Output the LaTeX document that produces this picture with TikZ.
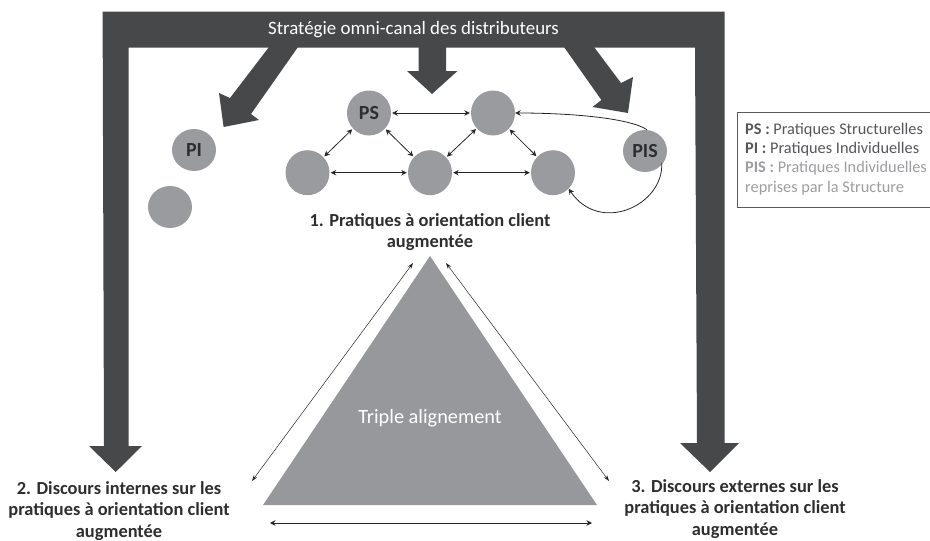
\documentclass[tikz,border=0pt]{standalone}
\usepackage{fontspec}
\setmainfont{Carlito}
\usetikzlibrary{shapes.geometric,arrows.meta}
\definecolor{darkbar}{HTML}{47484A}
\definecolor{midgrey}{HTML}{9A9B9E}
\definecolor{tritone}{HTML}{97989B}
\definecolor{labeltxt}{HTML}{2E2E30}
\definecolor{legendone}{HTML}{55565A}
\definecolor{legendtwo}{HTML}{9C9DA0}
\tikzset{
  bubble/.style={ellipse,fill=midgrey,inner sep=0pt,minimum width=44pt,minimum height=45pt,font=\fontsize{20}{20}\selectfont\bfseries,text=labeltxt},
  smallbubble/.style={bubble,minimum height=42pt},
  link/.style={{Stealth[length=5.5pt,width=5.5pt]}-{Stealth[length=5.5pt,width=5.5pt]},draw=black!85,line width=0.8pt,shorten >=1pt,shorten <=1pt},
  thinlink/.style={{Stealth[length=6pt,width=4pt]}-{Stealth[length=6pt,width=4pt]},draw=black!85,line width=0.5pt},
  curvelink/.style={-{Stealth[length=5.5pt,width=5.5pt]},draw=black!85,line width=0.8pt},
  biglabel/.style={align=center,font=\fontsize{18.4}{21.8}\selectfont\bfseries,text=labeltxt,inner sep=0pt},
  legendline/.style={anchor=west,inner sep=0pt,font=\fontsize{16.3}{16.3}\selectfont},
}
\begin{document}
\begin{tikzpicture}[x=1pt,y=-1pt]
\useasboundingbox (0,0) rectangle (930,541);
% frame with its two long arrows
\fill[darkbar] (102.6,11.7) -- (724.7,11.7) -- (724.7,443) -- (739,443) -- (710,472) -- (680,443) -- (697,443) -- (695,47.7)
  -- (128.7,47.7) -- (128.7,446) -- (142,446) -- (115.7,472) -- (89,446) -- (104,446) -- cycle;
% three arrows towards the practices
\fill[darkbar] (269,47) -- (298,47) -- (251,114) -- (259,120) -- (223.6,127) -- (219,93) -- (230,98) -- cycle;
\fill[darkbar] (418.6,47) -- (446,47) -- (446,71) -- (457.5,71) -- (432,94) -- (407,71) -- (418.6,71) -- cycle;
\fill[darkbar] (564,47) -- (594,47) -- (621,83) -- (633,77) -- (628,113) -- (592.5,107) -- (601.4,100) -- cycle;
\node[text=white,inner sep=0pt,font=\fontsize{18.9}{18.9}\selectfont] (title) at (413.5,30) {Stratégie omni-canal des distributeurs};
% triangle
\fill[tritone] (430,256) -- (597,505) -- (263,505) -- cycle;
\node[text=white,inner sep=0pt,font=\fontsize{20.3}{20.3}\selectfont] (triple) at (430,418) {Triple alignement};
% bubbles
\node[bubble] (ps) at (369,113) {PS};
\node[bubble] (tr) at (493,113) {};
\node[bubble] (bl) at (307.5,172.7) {};
\node[bubble] (bm) at (430,172.7) {};
\node[bubble] (br) at (553,172.7) {};
\node[smallbubble] (pis) at (645,151) {PIS};
\node[smallbubble] (pi) at (194,150) {PI};
\node[smallbubble] (blank) at (170,207) {};
% links
\draw[link] (ps) -- (tr);
\draw[link] (bl) -- (bm);
\draw[link] (bm) -- (br);
\draw[link] (ps) -- (bl);
\draw[link] (ps) -- (bm);
\draw[link] (tr) -- (bm);
\draw[link] (tr) -- (br);
\draw[curvelink] (pis.north) ++(2,0) .. controls (630,118) and (570,113) .. (tr.east);
\draw[curvelink] (pis.south east) ++(1,-3) .. controls (664,205) and (600,235) .. (br.south east);
% labels
\node[biglabel] (l1) at (430,232) {1. Pratiques à orientation client\\augmentée};
\node[biglabel] (l2) at (119,511) {2. Discours internes sur les\\pratiques à orientation client\\augmentée};
\node[biglabel] (l3) at (735,509) {3. Discours externes sur les\\pratiques à orientation client\\augmentée};
% alignment arrows
\coordinate (al) at (252,481);
\coordinate (at) at (413,263);
\coordinate (ar) at (609,481);
\coordinate (au) at (446,263);
\coordinate (bla) at (270,523);
\coordinate (bra) at (592,523);
\draw[thinlink] (al) -- (at);
\draw[thinlink] (ar) -- (au);
\draw[link,shorten >=0pt,shorten <=0pt] (bla) -- (bra);
% legend: open on the right, where the picture ends
\coordinate (lgtr) at (930,112);
\coordinate (lgtl) at (737,112);
\coordinate (lgbl) at (737,207);
\coordinate (lgbr) at (930,207);
\draw[black!65,line width=0.8pt] (lgtr) -- (lgtl) -- (lgbl) -- (lgbr);
\node[legendline,text=legendone] (lg1) at (745,130) {\textbf{PS :} Pratiques Structurelles};
\node[legendline,text=legendone] (lg2) at (745,149) {\textbf{PI :} Pratiques Individuelles};
\node[legendline,text=legendtwo] (lg3) at (745,168) {\textbf{PIS :} Pratiques Individuelles};
\node[legendline,text=legendtwo] (lg4) at (745,188) {reprises par la Structure};
\end{tikzpicture}
\end{document}
